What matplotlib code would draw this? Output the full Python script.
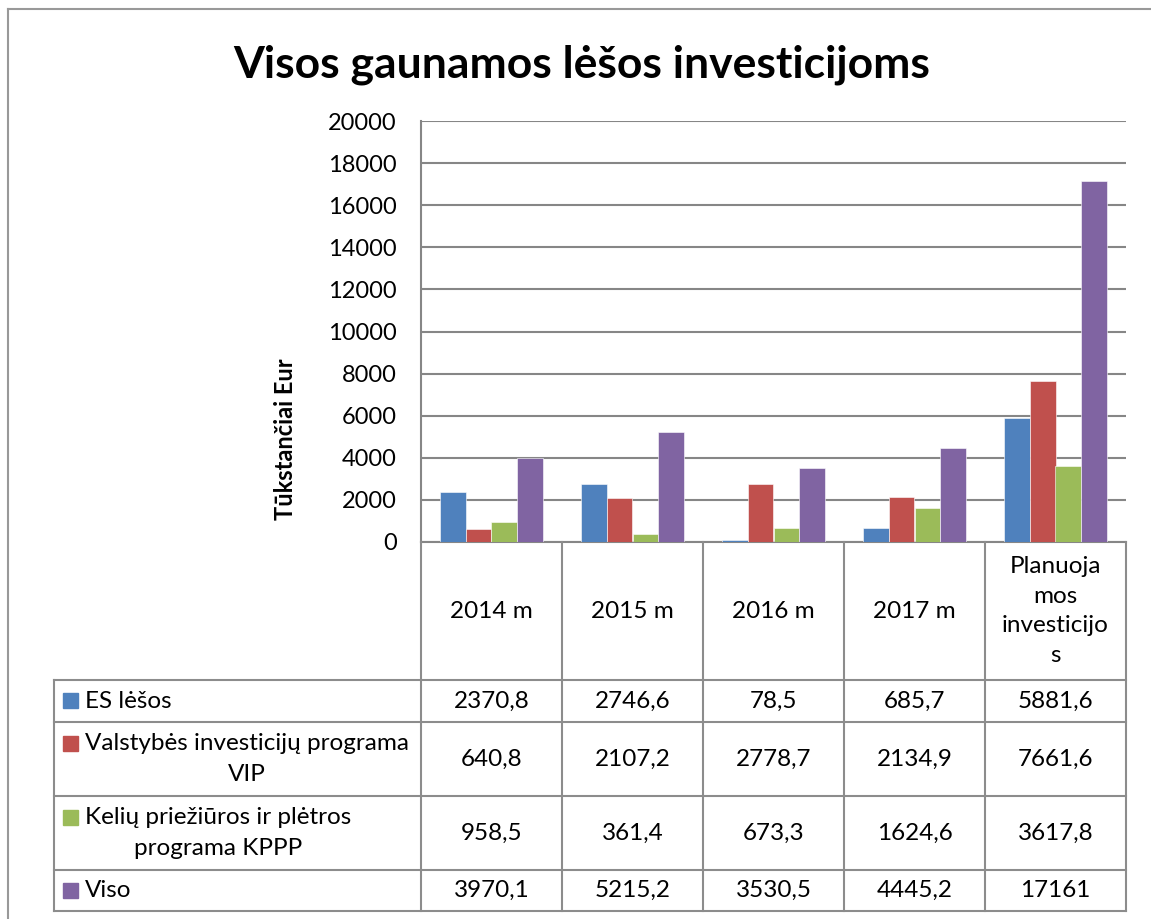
import numpy as np
import matplotlib.pyplot as plt
from matplotlib.lines import Line2D
from matplotlib.patches import Rectangle

plt.rcParams['font.family'] = ['Lato', 'DejaVu Sans']

# duomenys
categories = ['2014 m', '2015 m', '2016 m', '2017 m', 'Planuoja\nmos\ninvesticijo\ns']
series_names = ['ES lėšos', 'Valstybės investicijų programa\nVIP',
                'Kelių priežiūros ir plėtros\nprograma KPPP', 'Viso']
es_lesos = [2370.8, 2746.6, 78.5, 685.7, 5881.6]
vip = [640.8, 2107.2, 2778.7, 2134.9, 7661.6]
kppp = [958.5, 361.4, 673.3, 1624.6, 3617.8]
viso = [3970.1, 5215.2, 3530.5, 4445.2, 17161]
yticks = [0, 2000, 4000, 6000, 8000, 10000, 12000, 14000, 16000, 18000, 20000]

series = [es_lesos, vip, kppp, viso]
colors = ['#4F81BD', '#C0504D', '#9BBB59', '#8064A2']
grid_c = '#868686'
fs = 17.5

W, H = 1151, 919
fig = plt.figure(figsize=(W / 100, H / 100), dpi=100)


def fx(px):
    return px / W


def fy(py):
    return 1 - py / H


# plot area in pixels
x0, x1, ytop, ybot = 421, 1126, 121, 542
ax = fig.add_axes([fx(x0), fy(ybot), fx(x1 - x0), (ybot - ytop) / H])

n = len(categories)
x = np.arange(n)
bw = 0.181
for i, (vals, c) in enumerate(zip(series, colors)):
    ax.bar(x + (i - 1.5) * bw, vals, bw, color=c, edgecolor='#ffffff', linewidth=0.4, zorder=3)

ax.set_xlim(-0.5, n - 0.5)
ax.set_ylim(0, 20000)
ax.set_yticks(yticks)
ax.set_yticklabels([str(t) for t in yticks], fontsize=17)
ax.tick_params(axis='y', length=0, pad=17.5)
ax.set_xticks([])
ax.grid(axis='y', color=grid_c, linewidth=1.5, zorder=0)
for s in ['top', 'right']:
    ax.spines[s].set_visible(False)
for s in ['left', 'bottom']:
    ax.spines[s].set_color(grid_c)
    ax.spines[s].set_linewidth(1.5)

ax.set_ylabel('Tūkstančiai Eur', fontsize=17, fontweight='bold')
ax.yaxis.set_label_coords((297 - x0) / (x1 - x0), (ybot - 439) / (ybot - ytop))

fig.text(fx(582), fy(65), 'Visos gaunamos lėšos investicijoms',
         ha='center', va='center', fontsize=32, fontweight='bold')

# outer frame
fig.add_artist(Line2D([fx(8), fx(8)], [fy(9), fy(919)], color='#999999', lw=1.5))
fig.add_artist(Line2D([fx(8), 1], [fy(9), fy(9)], color='#999999', lw=1.5))

# data table
tab_left = 54
col_w = (x1 - x0) / n
row_y = [680, 722, 796, 870, 911]
lc = '#8c8c8c'
lw = 1.5


def hline(y, xa, xb):
    fig.add_artist(Line2D([fx(xa), fx(xb)], [fy(y), fy(y)], color=lc, lw=lw))


def vline(xp, ya, yb):
    fig.add_artist(Line2D([fx(xp), fx(xp)], [fy(ya), fy(yb)], color=lc, lw=lw))


for j in range(n + 1):
    vline(x0 + j * col_w, ybot, row_y[-1])
vline(tab_left, row_y[0], row_y[-1])
for y in row_y:
    hline(y, tab_left, x1)

# header
for j, cat in enumerate(categories):
    fig.text(fx(x0 + (j + 0.5) * col_w), fy((ybot + row_y[0]) / 2), cat,
             ha='center', va='center', fontsize=fs, linespacing=1.5)

# rows
for i, (name, vals, c) in enumerate(zip(series_names, series, colors)):
    yc = (row_y[i] + row_y[i + 1]) / 2
    multi = '\n' in name
    fig.add_artist(Rectangle((fx(63), fy(yc - 8) if multi else fy(yc + 7)),
                             fx(15), 15 / H, color=c))
    fig.text(fx(85), fy(yc), name, ha='left', va='center', fontsize=fs,
             multialignment='center', linespacing=1.55)
    for j, v in enumerate(vals):
        fig.text(fx(x0 + (j + 0.5) * col_w), fy(yc), f'{v:g}'.replace('.', ','),
                 ha='center', va='center', fontsize=fs)

fig.savefig('out.png', dpi=100)
